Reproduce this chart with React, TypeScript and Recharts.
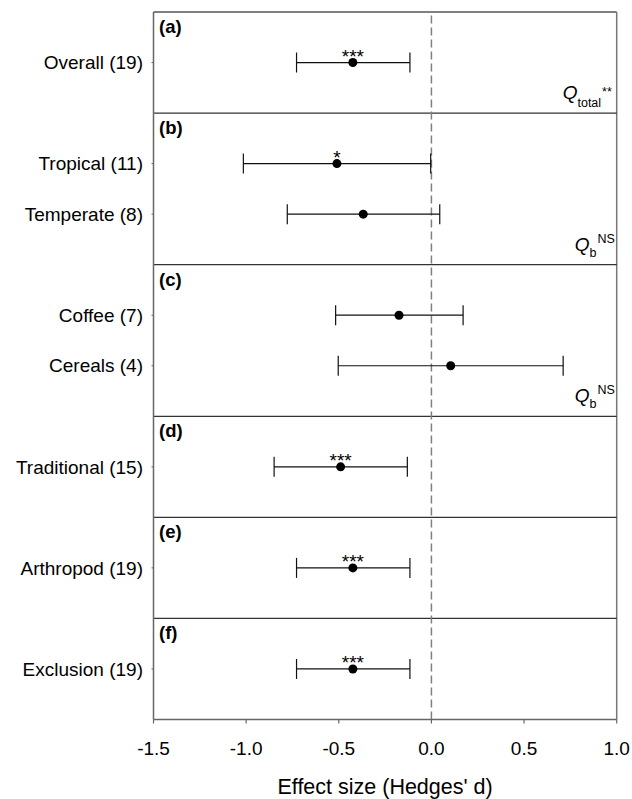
import React from 'react';
import { ScatterChart, Scatter, XAxis, YAxis, ErrorBar, ReferenceLine, Label } from 'recharts';

const FONT = "Arial, 'Liberation Sans', Helvetica, sans-serif";

// Panels (groups) and how many categories each holds
const panelLabels = ['(a)', '(b)', '(c)', '(d)', '(e)', '(f)'];
const panelSizes = [1, 2, 2, 1, 1, 1];

// Categories (number of studies in brackets)
const categories = [
  'Overall (19)',
  'Tropical (11)',
  'Temperate (8)',
  'Coffee (7)',
  'Cereals (4)',
  'Traditional (15)',
  'Arthropod (19)',
  'Exclusion (19)',
];

// Effect sizes (Hedges' d) and 95% CI bounds
const effect = [-0.424, -0.51, -0.368, -0.175, 0.104, -0.49, -0.424, -0.424];
const ciLow = [-0.728, -1.015, -0.778, -0.517, -0.503, -0.849, -0.728, -0.728];
const ciHigh = [-0.116, -0.004, 0.045, 0.171, 0.711, -0.13, -0.116, -0.116];
const stars = ['***', '*', '', '', '', '***', '***', '***'];

// Heterogeneity statistic per panel
const qMain = ['Q', 'Q', 'Q', '', '', ''];
const qSub = ['total', 'b', 'b', '', '', ''];
const qSup = ['**', 'NS', 'NS', '', '', ''];

const xTicks = [-1.5, -1.0, -0.5, 0.0, 0.5, 1.0];
const xDomain = [-1.5, 1.0];

// ---- derived structure (slots on a numeric category axis) ----
const rowY: number[] = [];
const panelTop: number[] = [];
let slot = 0;
panelSizes.forEach((n) => {
  panelTop.push(slot);
  for (let i = 1; i <= n; i++) rowY.push(slot + i);
  slot += n + 1;
});
const yMax = slot;

const points = categories.map((c, i) => ({
  x: effect[i],
  y: rowY[i],
  err: [effect[i] - ciLow[i], ciHigh[i] - effect[i]],
  star: stars[i],
  name: c,
}));

const panelLabelData = panelTop.map((t, i) => ({ x: xDomain[0], y: t, label: panelLabels[i] }));

const qData = panelTop
  .map((t, i) => ({
    x: xDomain[1],
    y: i + 1 < panelTop.length ? panelTop[i + 1] : yMax,
    main: qMain[i],
    sub: qSub[i],
    sup: qSup[i],
  }))
  .filter((d) => d.main !== '');

const PointShape = (props: any) => {
  const { cx, cy, payload } = props;
  return (
    <g>
      <circle cx={cx} cy={cy} r={4.5} fill="#000" />
      {payload.star ? (
        <text x={cx} y={cy + 0.5} textAnchor="middle" fontSize={19} fontFamily={FONT} fill="#000">
          {payload.star}
        </text>
      ) : null}
    </g>
  );
};

const PanelLabelShape = (props: any) => {
  const { cx, cy, payload } = props;
  return (
    <text x={cx + 5.5} y={cy + 21} fontSize={18.5} fontWeight="bold" fontFamily={FONT} fill="#000">
      {payload.label}
    </text>
  );
};

const QShape = (props: any) => {
  const { cx, cy, payload } = props;
  const isTotal = payload.sub.length > 1;
  return (
    <text x={cx - (isTotal ? 54 : 42)} y={cy - 14} fontFamily={FONT} fill="#000">
      <tspan fontSize={19} fontStyle="italic">{payload.main}</tspan>
      <tspan fontSize={12.5} dy={isTotal ? 8 : 6}>{payload.sub}</tspan>
      <tspan fontSize={12.5} dy={isTotal ? -11 : -14} dx={1}>{payload.sup}</tspan>
    </text>
  );
};

export default function App() {
  const labelFor = (v: number) => {
    const idx = rowY.indexOf(v);
    return idx >= 0 ? categories[idx] : '';
  };
  return (
    <div style={{ position: 'absolute', left: 0, top: 0 }}>
      <ScatterChart
        width={632}
        height={799}
        margin={{ top: 12, right: 15.3, left: 13.5, bottom: 0 }}
        style={{ fontFamily: FONT }}
      >
        <XAxis
          type="number"
          dataKey="x"
          domain={xDomain}
          ticks={xTicks}
          interval={0}
          allowDataOverflow
          tickFormatter={(v: number) => v.toFixed(1)}
          height={79.5}
          tickSize={4}
          tickMargin={18}
          axisLine={{ stroke: '#666', strokeWidth: 1.5 }}
          tickLine={{ stroke: '#666', strokeWidth: 1.2 }}
          tick={{ fill: '#000', fontSize: 19, fontFamily: FONT }}
        >
          <Label
            value="Effect size (Hedges' d)"
            position="insideBottom"
            offset={5}
            style={{ fontSize: 21.5, fill: '#000', fontFamily: FONT }}
          />
        </XAxis>
        <YAxis
          type="number"
          dataKey="y"
          domain={[0, yMax]}
          reversed
          ticks={rowY}
          interval={0}
          allowDataOverflow
          tickFormatter={labelFor}
          width={140}
          tickSize={2}
          tickMargin={8.5}
          axisLine={{ stroke: '#666', strokeWidth: 1.5 }}
          tickLine={{ stroke: '#666', strokeWidth: 1 }}
          tick={{ fill: '#000', fontSize: 19, fontFamily: FONT }}
        />
        <ReferenceLine y={0} stroke="#555" strokeWidth={1.5} />
        <ReferenceLine x={xDomain[1]} stroke="#777" strokeWidth={1.5} />
        {panelTop.slice(1).map((t) => (
          <ReferenceLine key={t} y={t} stroke="#333" strokeWidth={1.3} />
        ))}
        <ReferenceLine x={0} stroke="#808080" strokeWidth={1.5} strokeDasharray="8 4" />
        <Scatter data={points} shape={PointShape} isAnimationActive={false}>
          <ErrorBar dataKey="err" direction="x" width={10} stroke="#111" strokeWidth={1.2} />
        </Scatter>
        <Scatter data={panelLabelData} shape={PanelLabelShape} isAnimationActive={false} />
        <Scatter data={qData} shape={QShape} isAnimationActive={false} />
      </ScatterChart>
    </div>
  );
}
